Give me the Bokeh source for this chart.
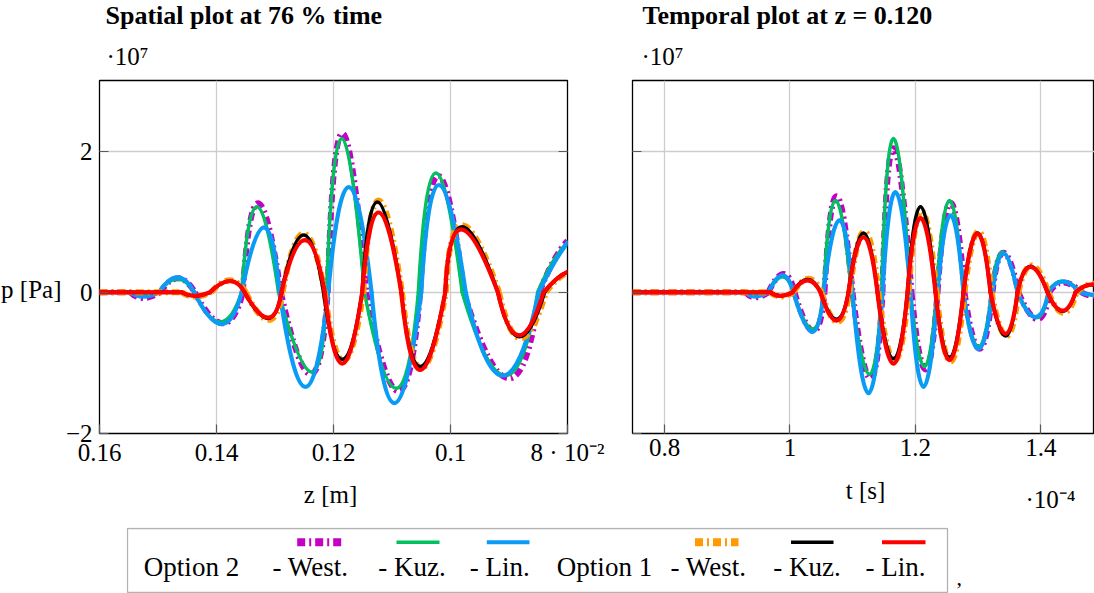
import numpy as np
from bokeh.plotting import figure
from bokeh.models import Range1d, FixedTicker, Label, LinearAxis, CustomJSTickFormatter, Spacer, BoxAnnotation
from bokeh.layouts import row, column
from bokeh.embed import file_html
from bokeh.resources import INLINE

FONT = "Liberation Serif"

# ---------------- data (pressure in 1e7 Pa) ----------------
# Each series: nodes alternating [zero/end, extremum, zero/end, extremum, ...]
# Spatial plot (z in m)
z_opt2_west = [0.1600, 0.1575, 0.1547, 0.1525, 0.1496, 0.1466, 0.1437, 0.1389, 0.1355, 0.1329, 0.1290, 0.1239,
               0.1210, 0.1185, 0.1144, 0.1089, 0.1052, 0.1021, 0.0977, 0.0900, 0.0848, 0.0824, 0.0800]
p_opt2_west = [0, 0, 0, -0.08, 0, 0.20, 0, -0.44, 0, 1.26, 0, -1.16, 0, 2.25, 0, -1.40, 0, 1.65, 0, -1.22, 0, 0.44, 0.73]

z_opt2_kuz = [0.1600, 0.1575, 0.1547, 0.1525, 0.1498, 0.1467, 0.1438, 0.1394, 0.1357, 0.1331, 0.1294, 0.1237,
              0.1212, 0.1186, 0.1147, 0.1093, 0.1055, 0.1025, 0.0980, 0.0906, 0.0851, 0.0826, 0.0800]
p_opt2_kuz = [0, 0, 0, -0.05, 0, 0.19, 0, -0.42, 0, 1.21, 0, -1.13, 0, 2.18, 0, -1.36, 0, 1.69, 0, -1.18, 0, 0.42, 0.71]

z_opt2_lin = [0.1600, 0.1575, 0.1547, 0.1525, 0.1498, 0.1467, 0.1438, 0.1391, 0.1357, 0.1319, 0.1292, 0.1248,
              0.1209, 0.1174, 0.1135, 0.1096, 0.1050, 0.1020, 0.0974, 0.0911, 0.0849, 0.0824, 0.0800]
p_opt2_lin = [0, 0, 0, -0.06, 0, 0.21, 0, -0.45, 0, 0.92, 0, -1.34, 0, 1.49, 0, -1.57, 0, 1.52, 0, -1.18, 0, 0.40, 0.70]

z_opt1_west = [0.1600, 0.1527, 0.1459, 0.1437, 0.1409, 0.1377, 0.1350, 0.1311, 0.1287, 0.1251, 0.1215, 0.1183,
               0.1149, 0.1123, 0.1083, 0.1050, 0.1008, 0.0980, 0.0917, 0.0880, 0.0837, 0.0819, 0.0800]
p_opt1_west = [0, 0, 0, -0.06, 0, 0.17, 0, -0.39, 0, 0.83, 0, -0.97, 0, 1.30, 0, -1.08, 0, 0.95, 0, -0.65, 0, 0.17, 0.28]

z_opt1_kuz = [0.1600, 0.1527, 0.1459, 0.1437, 0.1411, 0.1377, 0.1352, 0.1312, 0.1289, 0.1251, 0.1217, 0.1185,
              0.1151, 0.1125, 0.1084, 0.1052, 0.1009, 0.0980, 0.0919, 0.0882, 0.0839, 0.0820, 0.0800]
p_opt1_kuz = [0, 0, 0, -0.05, 0, 0.16, 0, -0.37, 0, 0.81, 0, -0.95, 0, 1.28, 0, -1.05, 0, 0.93, 0, -0.63, 0, 0.18, 0.29]

z_opt1_lin = [0.1600, 0.1527, 0.1459, 0.1437, 0.1411, 0.1377, 0.1352, 0.1312, 0.1289, 0.1249, 0.1215, 0.1185,
              0.1151, 0.1123, 0.1084, 0.1052, 0.1009, 0.0982, 0.0919, 0.0883, 0.0841, 0.0820, 0.0800]
p_opt1_lin = [0, 0, 0, -0.05, 0, 0.16, 0, -0.36, 0, 0.74, 0, -1.01, 0, 1.13, 0, -1.10, 0, 0.89, 0, -0.61, 0, 0.18, 0.29]

# Temporal plot (t in 1e-4 s)
t_opt2_west = [0.7490, 0.8574, 0.9291, 0.9450, 0.9657, 0.9896, 1.0072, 1.0375, 1.0550, 1.0741, 1.0996, 1.1283,
               1.1474, 1.1649, 1.1936, 1.2159, 1.2351, 1.2558, 1.2781, 1.3020, 1.3227, 1.3402, 1.3641, 1.3944,
               1.4135, 1.4359, 1.4645, 1.4757, 1.4853]
q_opt2_west = [0, 0, 0, -0.07, 0, 0.26, 0, -0.55, 0, 1.36, 0, -1.22, 0, 2.04, 0, -1.09, 0, 1.27, 0, -0.80, 0, 0.56,
               0, -0.38, 0, 0.14, 0, -0.04, -0.05]

t_opt2_kuz = [0.7490, 0.8574, 0.9291, 0.9450, 0.9657, 0.9881, 1.0056, 1.0359, 1.0534, 1.0725, 1.0980, 1.1267,
              1.1458, 1.1649, 1.1920, 1.2143, 1.2335, 1.2542, 1.2765, 1.3004, 1.3211, 1.3386, 1.3626, 1.3928,
              1.4120, 1.4343, 1.4630, 1.4741, 1.4853]
q_opt2_kuz = [0, 0, 0, -0.05, 0, 0.22, 0, -0.52, 0, 1.30, 0, -1.16, 0, 2.18, 0, -1.05, 0, 1.30, 0, -0.77, 0, 0.57,
              0, -0.36, 0, 0.16, 0, -0.03, -0.04]

t_opt2_lin = [0.7490, 0.8574, 0.9291, 0.9450, 0.9657, 0.9881, 1.0056, 1.0359, 1.0534, 1.0789, 1.0996, 1.1251,
              1.1474, 1.1681, 1.1920, 1.2128, 1.2351, 1.2558, 1.2765, 1.3004, 1.3227, 1.3402, 1.3626, 1.3912,
              1.4120, 1.4343, 1.4630, 1.4741, 1.4853]
q_opt2_lin = [0, 0, 0, -0.06, 0, 0.24, 0, -0.56, 0, 1.02, 0, -1.43, 0, 1.42, 0, -1.34, 0, 1.09, 0, -0.80, 0, 0.55,
              0, -0.35, 0, 0.15, 0, -0.03, -0.04]

t_opt1_west = [0.7490, 0.8574, 0.9689, 0.9849, 1.0056, 1.0295, 1.0502, 1.0757, 1.0948, 1.1187, 1.1410, 1.1665,
               1.1888, 1.2096, 1.2335, 1.2558, 1.2781, 1.3004, 1.3211, 1.3450, 1.3641, 1.3849, 1.4120, 1.4359,
               1.4566, 1.4725, 1.4853]
q_opt1_west = [0, 0, 0, -0.06, 0, 0.19, 0, -0.42, 0, 0.86, 0, -0.97, 0, 1.15, 0, -0.98, 0, 0.86, 0, -0.62, 0, 0.38,
               0, -0.29, 0, 0.10, 0.12]

t_opt1_kuz = [0.7490, 0.8574, 0.9689, 0.9849, 1.0040, 1.0279, 1.0486, 1.0741, 1.0932, 1.1171, 1.1394, 1.1649,
              1.1873, 1.2080, 1.2319, 1.2542, 1.2765, 1.2988, 1.3195, 1.3434, 1.3626, 1.3833, 1.4104, 1.4343,
              1.4550, 1.4709, 1.4853]
q_opt1_kuz = [0, 0, 0, -0.05, 0, 0.18, 0, -0.38, 0, 0.84, 0, -0.94, 0, 1.21, 0, -0.92, 0, 0.84, 0, -0.62, 0, 0.37,
              0, -0.27, 0, 0.09, 0.10]

t_opt1_lin = [0.7490, 0.8574, 0.9689, 0.9849, 1.0040, 1.0279, 1.0486, 1.0741, 1.0932, 1.1171, 1.1394, 1.1649,
              1.1873, 1.2080, 1.2319, 1.2542, 1.2765, 1.2988, 1.3195, 1.3434, 1.3626, 1.3833, 1.4104, 1.4343,
              1.4550, 1.4709, 1.4853]
q_opt1_lin = [0, 0, 0, -0.05, 0, 0.17, 0, -0.40, 0, 0.78, 0, -1.01, 0, 1.05, 0, -0.96, 0, 0.83, 0, -0.59, 0, 0.36,
              0, -0.26, 0, 0.09, 0.11]

Z_TICKS = [0.16, 0.14, 0.12, 0.1, 0.08]
Z_TICK_LABELS = ["0.16", "0.14", "0.12", "0.1", "8 · 10⁻²"]
T_TICKS = [0.8, 1.0, 1.2, 1.4]
T_TICK_LABELS = ["0.8", "1", "1.2", "1.4"]
P_TICKS = [-2, 0, 2]
P_TICK_LABELS = ["−2", "0", "2"]

SERIES_NAMES = ["Option 2", "Option 1"]
METHOD_NAMES = ["- West.", "- Kuz.", "- Lin."]

C_MAG, C_GRN, C_BLU = "#C400C4", "#00C060", "#0A9CF5"
C_ORA, C_BLK, C_RED = "#FF9A00", "#000000", "#FF0000"
DASH = "8 4 2 4"
W_WEST, W_KUZ, W_LIN = 6, 3.5, 4.2


def add_curve(p, xs, ys, color, width, dash="solid"):
    xs = np.asarray(xs, float)
    ys = np.asarray(ys, float)
    x0, y0 = xs[:-1:2], ys[:-1:2]
    xm, ym = xs[1::2], ys[1::2]
    x1, y1 = xs[2::2], ys[2::2]
    cx = 2 * xm - (x0 + x1) / 2
    cy = 2 * ym - (y0 + y1) / 2
    p.quadratic(x0=x0, y0=y0, x1=x1, y1=y1, cx=cx, cy=cy, line_color=color,
                line_width=width, line_dash=dash,
                line_cap="butt" if dash != "solid" else "round", line_join="round")


def style_axis(ax, ticks, labels=None):
    ax.ticker = FixedTicker(ticks=ticks)
    if labels is None:
        ax.formatter = CustomJSTickFormatter(code="return ''")
    else:
        ax.major_label_overrides = dict(zip(ticks, labels))
    ax.axis_line_color = None
    ax.major_tick_in = 9
    ax.major_tick_out = 0
    ax.major_tick_line_color = "#5a5a5a"
    ax.major_tick_line_width = 1.2
    ax.minor_tick_line_color = None
    ax.major_label_text_font = FONT
    ax.major_label_text_font_size = "25px"
    ax.major_label_text_color = "black"
    ax.major_label_standoff = 5


def make_panel(width, x_range, xticks, xlabels, mb_left, mb_right, ylabels, right_axis):
    p = figure(width=width, height=400, x_range=x_range, y_range=Range1d(-2, 3),
               output_backend="svg", toolbar_location=None, title=None,
               min_border_left=mb_left, min_border_right=mb_right,
               min_border_top=8, min_border_bottom=39)
    p.background_fill_color = "white"
    p.border_fill_color = "white"
    p.outline_line_color = "black"
    p.outline_line_width = 1.3
    style_axis(p.xaxis[0], xticks, xlabels)
    style_axis(p.yaxis[0], P_TICKS, ylabels)
    p.yaxis[0].major_label_standoff = 7
    if right_axis:
        rgt = LinearAxis()
        style_axis(rgt, P_TICKS, None)
        p.add_layout(rgt, "right")
    for g in (p.xgrid[0], p.ygrid[0]):
        g.grid_line_color = "#cdcdcd"
        g.grid_line_width = 1.3
    return p


def strip(w, h, xr, yr):
    f = figure(width=w, height=h, x_range=Range1d(*xr), y_range=Range1d(*yr),
               output_backend="svg", toolbar_location=None, title=None,
               x_axis_type=None, y_axis_type=None,
               min_border_left=0, min_border_right=0, min_border_top=0, min_border_bottom=0)
    f.outline_line_color = None
    f.background_fill_color = "white"
    f.border_fill_color = "white"
    return f


def lab(p, text, x, y, size=25, style="normal", align="left", baseline="middle"):
    p.add_layout(Label(x=x, y=y, text=text, text_font=FONT, text_font_size=f"{size}px",
                       text_font_style=style, text_align=align, text_baseline=baseline,
                       text_color="black"))


# ---------------- top strip: titles and scale factors (coords = page px) ----------------
top = strip(1094, 72, (0, 1094), (72, 0))
lab(top, "Spatial plot at 76 % time", 105, 15, 26, "bold")
lab(top, "·10⁷", 106, 56)
lab(top, "Temporal plot at z = 0.120", 642, 15, 26, "bold")
lab(top, "·10⁷", 641, 56)

# ---------------- left strip: y label ----------------
left = strip(62, 400, (0, 62), (472, 72))
lab(left, "p [Pa]", 61, 309, 25, "normal", "right", "middle")

# ---------------- spatial plot ----------------
p1 = make_panel(546, Range1d(0.16, 0.08), Z_TICKS, Z_TICK_LABELS, 35, 41, P_TICK_LABELS, True)
add_curve(p1, z_opt2_west, p_opt2_west, C_MAG, W_WEST, DASH)
add_curve(p1, z_opt2_kuz, p_opt2_kuz, C_GRN, W_KUZ)
add_curve(p1, z_opt2_lin, p_opt2_lin, C_BLU, W_LIN)
add_curve(p1, z_opt1_west, p_opt1_west, C_ORA, W_WEST, DASH)
add_curve(p1, z_opt1_kuz, p_opt1_kuz, C_BLK, W_KUZ)
add_curve(p1, z_opt1_lin, p_opt1_lin, C_RED, W_LIN)

# ---------------- temporal plot ----------------
p2 = make_panel(486, Range1d(0.749, 1.4853), T_TICKS, T_TICK_LABELS, 24, 0, None, False)
add_curve(p2, t_opt2_west, q_opt2_west, C_MAG, W_WEST, DASH)
add_curve(p2, t_opt2_kuz, q_opt2_kuz, C_GRN, W_KUZ)
add_curve(p2, t_opt2_lin, q_opt2_lin, C_BLU, W_LIN)
add_curve(p2, t_opt1_west, q_opt1_west, C_ORA, W_WEST, DASH)
add_curve(p2, t_opt1_kuz, q_opt1_kuz, C_BLK, W_KUZ)
add_curve(p2, t_opt1_lin, q_opt1_lin, C_RED, W_LIN)

# ---------------- bottom strip: x labels ----------------
bottom = strip(1094, 55, (0, 1094), (527, 472))
lab(bottom, "z [m]", 330, 494, 25, "normal", "center")
lab(bottom, "t [s]", 865, 490, 25, "normal", "center")
lab(bottom, "·10⁻⁴", 1050, 499, 25, "normal", "center")

# ---------------- legend ----------------
p3 = figure(width=846, height=66, x_range=Range1d(-1, 845), y_range=Range1d(-1, 65),
            output_backend="svg", toolbar_location=None, title=None,
            x_axis_type=None, y_axis_type=None,
            min_border_left=0, min_border_right=0, min_border_top=0, min_border_bottom=0)
p3.outline_line_color = None
p3.background_fill_color = "white"
p3.border_fill_color = "white"
p3.add_layout(BoxAnnotation(left=0, right=820, bottom=0, top=64, fill_color=None,
                            line_color="black", line_width=1.3))

sample_specs = [
    (169.7, 214.0, C_MAG, 8, DASH),
    (269.0, 312.0, C_GRN, 3.5, "solid"),
    (359.3, 402.0, C_BLU, 4, "solid"),
    (567.5, 611.0, C_ORA, 8, DASH),
    (663.5, 706.0, C_BLK, 3.5, "solid"),
    (754.5, 798.0, C_RED, 4, "solid"),
]
for xa, xb, col, w, d in sample_specs:
    p3.segment(x0=[xa], y0=[50.3], x1=[xb], y1=[50.3], line_color=col, line_width=w, line_dash=d)

legend_texts = [
    (64, SERIES_NAMES[0]), (183, METHOD_NAMES[0]), (284.5, METHOD_NAMES[1]), (372.3, METHOD_NAMES[2]),
    (477, SERIES_NAMES[1]), (581, METHOD_NAMES[0]), (679.5, METHOD_NAMES[1]), (768, METHOD_NAMES[2]),
]
for xc, txt in legend_texts:
    lab(p3, txt, xc, 26, 27, "normal", "center")
lab(p3, ",", 829, 15, 22)

layout = column(top,
                row(left, p1, p2),
                bottom,
                row(Spacer(width=126, height=66), p3))

open("out.html", "w").write(file_html(layout, INLINE))
